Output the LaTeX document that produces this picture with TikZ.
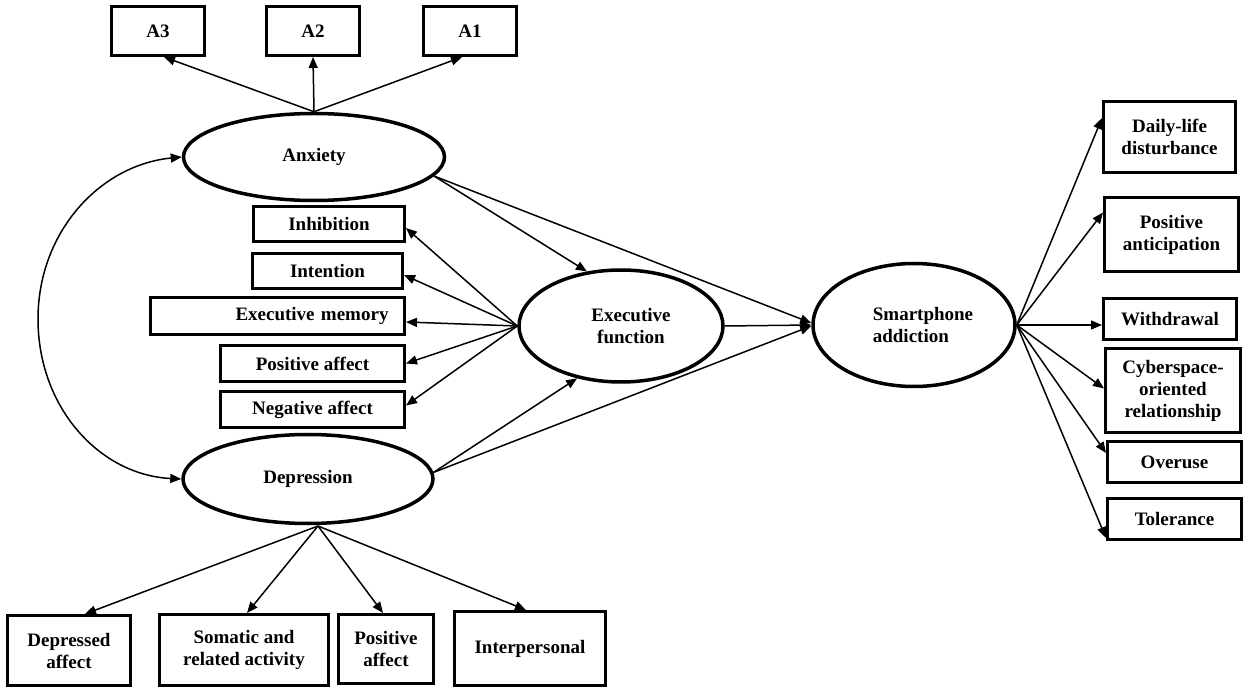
\documentclass[tikz,border=0pt]{standalone}
\usepackage{fontspec}
\setmainfont{Liberation Serif}
\usetikzlibrary{arrows.meta,shapes.geometric,calc}
\begin{document}
\begin{tikzpicture}[x=1pt,y=-1pt,
  every node/.style={font=\fontsize{19}{22}\selectfont\bfseries, inner sep=0pt, align=center},
  mbox/.style={draw, line width=3pt, rectangle},
  latent/.style={draw, line width=3.5pt, ellipse},
  arr/.style={line width=1.5pt, -{Triangle[length=11pt,width=9pt]}},
  darr/.style={line width=1.5pt, {Triangle[length=11pt,width=9pt]}-{Triangle[length=11pt,width=9pt]}}
]
\useasboundingbox[fill=white] (0,0) rectangle (1248,692);

% latent variables
\node[latent, minimum width=261, minimum height=87] (anx) at (314,157) {Anxiety};
\node[latent, minimum width=250, minimum height=89] (dep) at (308,479) {Depression};
\node[latent, minimum width=204, minimum height=112] (ef) at (621,326) {\hspace*{20pt}Executive\\\hspace*{20pt}function};
\node[latent, minimum width=202, minimum height=123, align=left] (sa) at (914,325) {\hspace*{18pt}Smartphone\\\hspace*{18pt}addiction};

% anxiety indicators
\node[mbox, minimum width=93, minimum height=49] (A3) at (158,31) {A3};
\node[mbox, minimum width=93, minimum height=49] (A2) at (313,31) {A2};
\node[mbox, minimum width=93, minimum height=49] (A1) at (470,31) {A1};

% executive function indicators
\node[mbox, minimum width=151, minimum height=35] (inh) at (329,224) {Inhibition};
\node[mbox, minimum width=150, minimum height=35] (int) at (327.5,271) {Intention};
\node[mbox, minimum width=254, minimum height=37, text width=222, align=right] (em) at (277.5,316) {Executive memory};
\node[mbox, minimum width=184, minimum height=36] (pa) at (312.5,363.5) {Positive affect};
\node[mbox, minimum width=184, minimum height=36] (na) at (312.5,409.5) {Negative affect};

% depression indicators
\node[mbox, minimum width=123, minimum height=70] (da) at (69,650.5) {Depressed\\affect};
\node[mbox, minimum width=169, minimum height=71] (som) at (244,650) {Somatic and\\related activity};
\node[mbox, minimum width=95, minimum height=69] (pa2) at (386,649) {Positive\\affect};
\node[mbox, minimum width=151, minimum height=74] (ip) at (530,648.5) {Interpersonal};

% smartphone addiction indicators
\node[mbox, minimum width=132, minimum height=71] (dl) at (1169.5,137) {Daily-life\\disturbance};
\node[mbox, minimum width=134, minimum height=74] (pant) at (1171.5,234.5) {Positive\\anticipation};
\node[mbox, minimum width=133, minimum height=41] (wd) at (1170,319) {Withdrawal};
\node[mbox, minimum width=135, minimum height=84] (cy) at (1173,390.5) {Cyberspace-\\oriented\\relationship};
\node[mbox, minimum width=134, minimum height=41] (ov) at (1174.5,462) {Overuse};
\node[mbox, minimum width=134, minimum height=41] (tol) at (1174.5,519) {Tolerance};

% anxiety loadings
\draw[arr] (anx.north) -- ($(A3.south)+(6,0)$);
\draw[arr] (anx.north) -- (A2.south);
\draw[arr] (anx.north) -- ($(A1.south)+(-8,0)$);

% depression loadings
\coordinate (dO) at (318,526);
\draw[arr] (dO) -- ($(da.north)+(16,0)$);
\draw[arr] (dO) -- ($(som.north)+(3,0)$);
\draw[arr] (dO) -- ($(pa2.north)+(-3,0)$);
\draw[arr] (dO) -- ($(ip.north)+(-4,0)$);

% executive function loadings
\draw[arr] (ef.west) -- ($(inh.east)+(0,4)$);
\draw[arr] (ef.west) -- ($(int.east)+(0,4)$);
\draw[arr] (ef.west) -- ($(em.east)+(0,6)$);
\draw[arr] (ef.west) -- (pa.east);
\draw[arr] (ef.west) -- ($(na.east)+(0,-4)$);

% smartphone addiction loadings
\draw[arr] (sa.east) -- ($(dl.west)+(0,-19)$);
\draw[arr] (sa.east) -- ($(pant.west)+(0,-22)$);
\draw[arr] (sa.east) -- ($(wd.west)+(0,6)$);
\draw[arr] (sa.east) -- ($(cy.west)+(0,-2)$);
\draw[arr] (sa.east) -- ($(ov.west)+(0,-9)$);
\draw[arr] (sa.east) -- ($(tol.west)+(0,19)$);

% structural paths
\draw[arr] (anx.-9) -- (ef.122);
\draw[arr] (anx.-9) -- ($(sa.west)+(0,-2)$);
\draw[arr] (dep.3) -- (ef.230);
\draw[arr] (dep.3) -- ($(sa.west)+(0,1)$);
\draw[arr] (ef.east) -- (sa.west);

% covariance
\coordinate (cv) at (38,319);
\draw[darr] (anx.west) .. controls (100,165) and (38,232) .. (cv) .. controls (38,408) and (100,475) .. (dep.west);
\end{tikzpicture}
\end{document}
